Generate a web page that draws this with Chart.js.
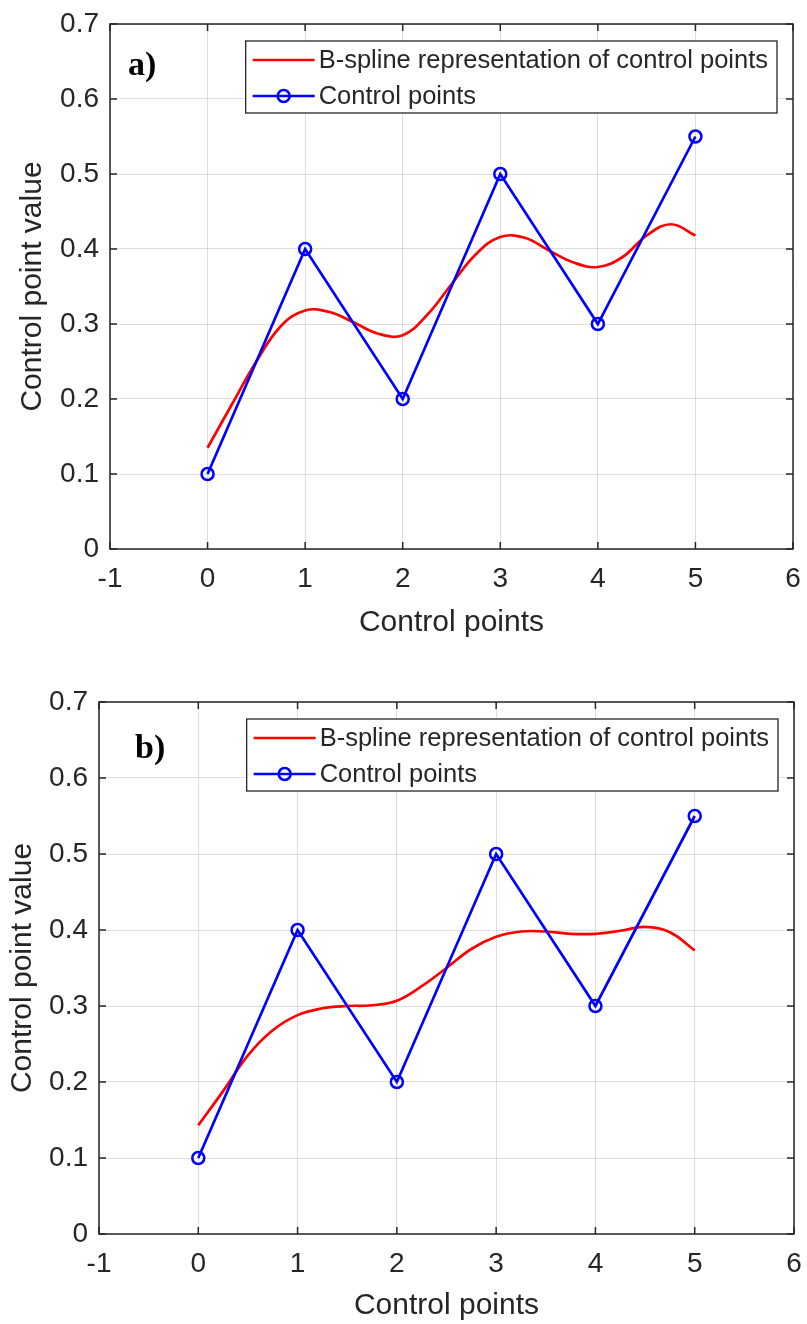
<!DOCTYPE html>
<html>
<head>
<meta charset="utf-8">
<script src="https://cdn.jsdelivr.net/npm/chart.js@4"></script>
<style>
  body { margin: 0; background: #fff; }
  .panel { position: absolute; left: 0; width: 807px; height: 662px; }
</style>
</head>
<body>
<div class="panel" style="top:0"><canvas id="chartA" width="807" height="662"></canvas></div>
<div class="panel" style="top:662px"><canvas id="chartB" width="807" height="662"></canvas></div>
<script>
// control polygon
const controlX = [0, 1, 2, 3, 4, 5]
const controlY = [0.1, 0.4, 0.2, 0.5, 0.3, 0.55]

// b-spline curves, sampled every 0.25
const splineX = [0, 0.25, 0.5, 0.75, 1, 1.25, 1.5, 1.75, 2, 2.25, 2.5, 2.75, 3, 3.25, 3.5, 3.75, 4, 4.25, 4.5, 4.75, 5]
const splineA = [0.135, 0.193, 0.250, 0.297, 0.318, 0.316, 0.302, 0.287, 0.285, 0.312, 0.353, 0.393, 0.416, 0.415, 0.398, 0.382, 0.376, 0.389, 0.418, 0.433, 0.418]
const splineB = [0.143, 0.188, 0.235, 0.268, 0.288, 0.297, 0.300, 0.301, 0.307, 0.326, 0.350, 0.375, 0.391, 0.398, 0.398, 0.395, 0.395, 0.399, 0.404, 0.397, 0.373]

const xTicks = [-1, 0, 1, 2, 3, 4, 5, 6]
const yTicks = [0, 0.1, 0.2, 0.3, 0.4, 0.5, 0.6, 0.7]
const legendLabels = ['B-spline representation of control points', 'Control points']

const FONT = '"Liberation Sans", Arial, sans-serif'
const INK = '#262626'

const toPoints = (xs, ys) => xs.map((x, i) => ({x: x, y: ys[i]}))

// scales shouldn't push the plot box around for their edge labels
function noEdgePadding(s) {
  s.paddingLeft = 0
  s.paddingRight = 0
  s.paddingTop = 0
  s.paddingBottom = 0
}

// box, inward ticks, panel tag and legend
const decorations = {
  id: 'decorations',
  afterDraw(chart, args, opts) {
    const {ctx, chartArea: a, scales: {x, y}} = chart
    ctx.save()
    ctx.strokeStyle = INK
    ctx.lineWidth = 1.5
    ctx.strokeRect(a.left, a.top, a.right - a.left, a.bottom - a.top)
    ctx.beginPath()
    xTicks.forEach(v => {
      const px = x.getPixelForValue(v)
      ctx.moveTo(px, a.bottom); ctx.lineTo(px, a.bottom - 7)
      ctx.moveTo(px, a.top); ctx.lineTo(px, a.top + 7)
    })
    yTicks.forEach(v => {
      const py = y.getPixelForValue(v)
      ctx.moveTo(a.left, py); ctx.lineTo(a.left + 7, py)
      ctx.moveTo(a.right, py); ctx.lineTo(a.right - 7, py)
    })
    ctx.stroke()

    ctx.fillStyle = '#000'
    ctx.font = 'bold 34px "Liberation Serif", "Times New Roman", serif'
    ctx.textBaseline = 'alphabetic'
    ctx.fillText(opts.tag, x.getPixelForValue(opts.tagX), y.getPixelForValue(opts.tagY))

    // legend
    ctx.font = '25.5px ' + FONT
    const textW = Math.max(...legendLabels.map(t => ctx.measureText(t).width))
    const w = textW + 82, h = 72
    const right = a.right - 16, top = a.top + 17
    const left = right - w
    ctx.fillStyle = '#fff'
    ctx.fillRect(left, top, w, h)
    ctx.strokeStyle = INK
    ctx.lineWidth = 1.3
    ctx.strokeRect(left, top, w, h)
    chart.data.datasets.forEach((ds, i) => {
      const cy = top + 19 + i * 36
      ctx.strokeStyle = ds.borderColor
      ctx.lineWidth = ds.borderWidth
      ctx.beginPath()
      ctx.moveTo(left + 7, cy); ctx.lineTo(left + 69, cy)
      ctx.stroke()
      if (ds.pointRadius > 0) {
        ctx.lineWidth = ds.pointBorderWidth
        ctx.beginPath()
        ctx.arc(left + 38, cy, ds.pointRadius, 0, Math.PI * 2)
        ctx.stroke()
      }
      ctx.fillStyle = INK
      ctx.textBaseline = 'middle'
      ctx.fillText(ds.label, left + 73, cy + 1)
    })
    ctx.restore()
  }
}

function makeChart(id, spline, o) {
  const ctx = document.getElementById(id)
  return new Chart(ctx, {
    type: 'line',
    data: {
      datasets: [{
        label: legendLabels[0],
        data: toPoints(splineX, spline),
        borderColor: '#ff0000',
        borderWidth: 2.7,
        pointRadius: 0,
        tension: 0.4,
        order: 1
      }, {
        label: legendLabels[1],
        data: toPoints(controlX, controlY),
        borderColor: '#0000ff',
        borderWidth: 2.7,
        pointRadius: 6,
        pointBorderWidth: 2.5,
        pointBackgroundColor: 'rgba(0,0,0,0)',
        pointBorderColor: '#0000ff',
        tension: 0,
        order: 0
      }]
    },
    options: {
      responsive: false,
      animation: false,
      layout: {padding: {top: o.top, right: o.right, left: 0, bottom: 0}},
      plugins: {
        legend: {display: false},
        tooltip: {enabled: false},
        decorations: {tag: o.tag, tagX: o.tagX, tagY: o.tagY}
      },
      scales: {
        x: {
          type: 'linear',
          min: -1,
          max: 6,
          afterBuildTicks: s => { s.ticks = xTicks.map(v => ({value: v})) },
          afterFit: s => { s.height = o.xHeight; noEdgePadding(s) },
          grid: {color: 'rgba(0,0,0,0.13)', drawTicks: false},
          border: {display: false},
          ticks: {
            color: INK,
            font: {family: FONT, size: 28},
            padding: 13,
            callback: v => String(v)
          },
          title: {
            display: true,
            text: 'Control points',
            color: INK,
            font: {family: FONT, size: 30},
            padding: {top: 0, bottom: o.xTitlePad}
          }
        },
        y: {
          min: 0,
          max: 0.7,
          afterBuildTicks: s => { s.ticks = yTicks.map(v => ({value: v})) },
          afterFit: s => { s.width = o.yWidth; noEdgePadding(s) },
          grid: {color: 'rgba(0,0,0,0.13)', drawTicks: false},
          border: {display: false},
          ticks: {
            color: INK,
            font: {family: FONT, size: 28},
            padding: 11,
            callback: v => String(Number(v.toFixed(1)))
          },
          title: {
            display: true,
            text: 'Control point value',
            color: INK,
            font: {family: FONT, size: 30},
            padding: {top: o.yTitlePad, bottom: 0}
          }
        }
      }
    },
    plugins: [decorations]
  })
}

makeChart('chartA', splineA, {
  top: 24, right: 14, yWidth: 110, xHeight: 113,
  xTitlePad: 21, yTitlePad: 15,
  tag: 'a)', tagX: -0.816, tagY: 0.632
})
makeChart('chartB', splineB, {
  top: 40, right: 13, yWidth: 99, xHeight: 90,
  xTitlePad: 0, yTitlePad: 5,
  tag: 'b)', tagX: -0.637, tagY: 0.626
})
</script>
</body>
</html>
